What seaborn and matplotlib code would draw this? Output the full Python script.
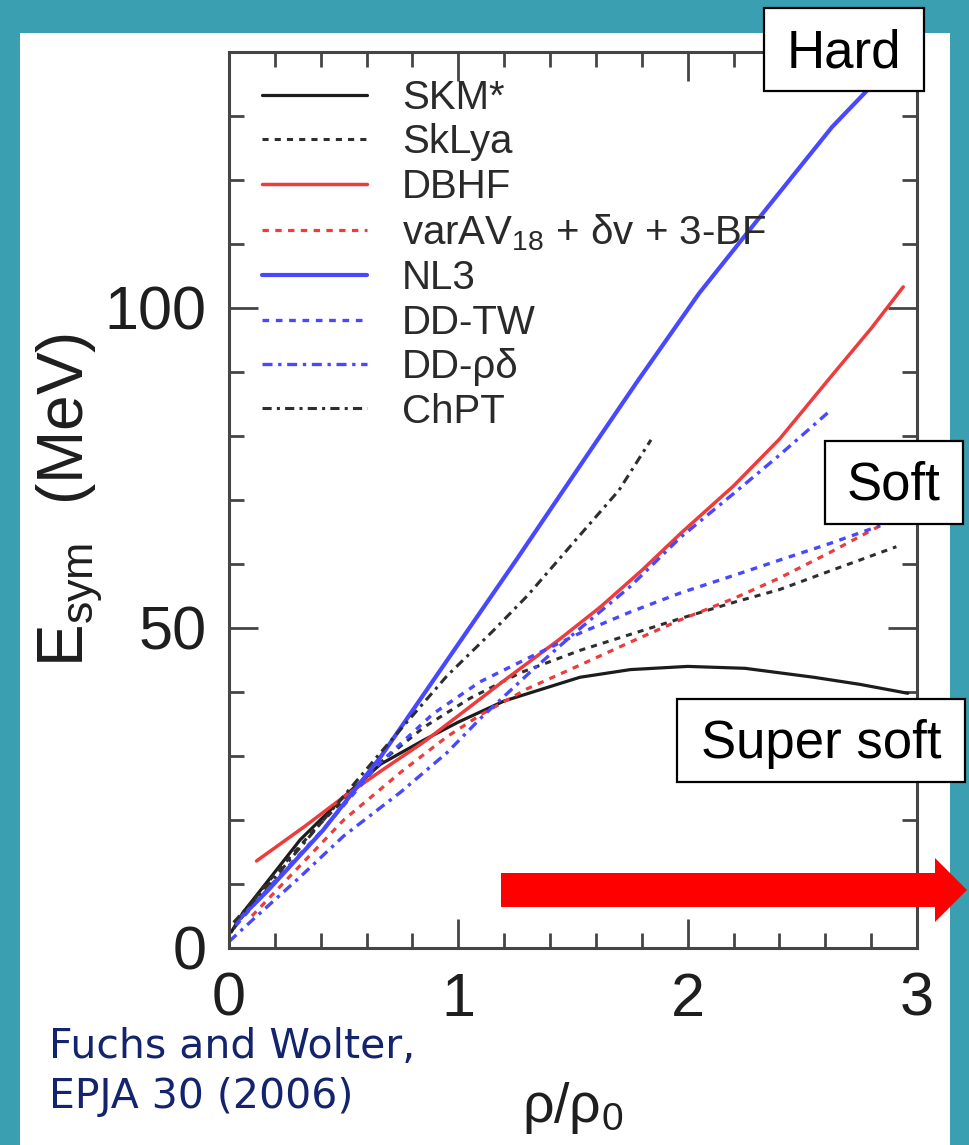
import matplotlib
matplotlib.use("Agg")
import matplotlib.pyplot as plt
from matplotlib.patches import Rectangle, Polygon
from matplotlib.ticker import MultipleLocator
import pandas as pd
import seaborn as sns

# ---- symmetry energy E_sym (MeV) versus density rho/rho0 ----
model_names = ["SKM*", "SkLya", "DBHF", "varAV$_\\mathregular{18}$ + δv + 3-BF",
               "NL3", "DD-TW", "DD-ρδ", "ChPT"]

skm_rho = [0.01, 0.06, 0.17, 0.31, 0.50, 0.66, 0.85, 1.00, 1.20, 1.53, 1.75, 2.00, 2.25, 2.55, 2.75, 2.96]
skm_esym = [2.5, 5.5, 10.5, 16.9, 23.6, 28.7, 32.5, 35.3, 38.6, 42.3, 43.5, 44.0, 43.7, 42.3, 41.2, 39.8]

sklya_rho = [0.02, 0.15, 0.37, 0.66, 0.85, 1.05, 1.27, 1.53, 1.75, 1.97, 2.20, 2.40, 2.65, 2.91]
sklya_esym = [3.0, 9.5, 18.4, 29.0, 34.5, 39.0, 43.0, 46.5, 49.0, 51.5, 54.0, 56.0, 59.3, 62.7]

dbhf_rho = [0.12, 0.33, 0.50, 0.66, 0.85, 1.00, 1.20, 1.44, 1.62, 1.80, 1.97, 2.20, 2.40, 2.63, 2.80, 2.94]
dbhf_esym = [13.6, 19.0, 23.6, 27.6, 32.2, 36.3, 41.8, 48.2, 53.3, 59.0, 64.8, 72.2, 79.5, 89.5, 96.8, 103.3]

varav_rho = [0.10, 0.30, 0.50, 0.75, 0.95, 1.10, 1.30, 1.53, 1.75, 1.97, 2.20, 2.40, 2.62, 2.84]
varav_esym = [5.0, 12.5, 20.0, 27.5, 33.0, 36.5, 40.5, 44.2, 47.8, 51.3, 54.6, 57.8, 61.8, 66.0]

nl3_rho = [0.03, 0.17, 0.41, 0.66, 1.00, 1.25, 1.59, 1.78, 2.05, 2.35, 2.63, 2.78, 2.95]
nl3_esym = [4.0, 9.0, 18.4, 29.8, 47.5, 60.5, 78.5, 88.5, 102.3, 115.8, 128.3, 133.9, 140.0]

ddtw_rho = [0.03, 0.20, 0.41, 0.66, 0.89, 1.095, 1.31, 1.53, 1.75, 1.97, 2.20, 2.40, 2.62, 2.84]
ddtw_esym = [3.5, 10.5, 18.5, 29.0, 36.6, 41.6, 45.4, 49.2, 52.5, 55.5, 58.2, 60.6, 63.2, 66.0]

ddrd_rho = [0.00, 0.10, 0.31, 0.50, 0.75, 0.95, 1.10, 1.31, 1.50, 1.75, 1.97, 2.20, 2.40, 2.61]
ddrd_esym = [1.0, 4.3, 11.1, 17.5, 24.4, 30.5, 36.0, 43.0, 49.0, 56.5, 64.2, 71.0, 77.0, 83.6]

chpt_rho = [0.02, 0.20, 0.40, 0.66, 0.95, 1.15, 1.30, 1.53, 1.70, 1.84]
chpt_esym = [4.0, 11.0, 19.5, 30.5, 42.5, 49.5, 55.0, 64.5, 71.5, 79.4]

curves_rho = [skm_rho, sklya_rho, dbhf_rho, varav_rho, nl3_rho, ddtw_rho, ddrd_rho, chpt_rho]
curves_esym = [skm_esym, sklya_esym, dbhf_esym, varav_esym, nl3_esym, ddtw_esym, ddrd_esym, chpt_esym]

x_ticks = [0, 1, 2, 3]
y_ticks = [0, 50, 100]

# ---- styling ----
TEAL = "#3a9fb1"
BLACK = "#1c1c1c"
GRAY = "#2e2e2e"
RED = "#ee3b3b"
BLUE = "#4848ff"
AXC = "#454545"
TXT = "#1e1e1e"
DOT = (0, (2.0, 2.0))
DASHDOT = (0, (3.0, 1.7, 1.0, 1.7))

styles = [
    (BLACK, 2.3, "-"),
    (GRAY, 2.2, DOT),
    (RED, 2.5, "-"),
    (RED, 2.3, DOT),
    (BLUE, 3.0, "-"),
    (BLUE, 2.4, DOT),
    (BLUE, 2.4, DASHDOT),
    (GRAY, 2.2, DASHDOT),
]

sns.set_theme(style="ticks")
plt.rcParams["font.family"] = ["Liberation Sans", "DejaVu Sans"]
plt.rcParams["mathtext.fontset"] = "custom"
plt.rcParams["mathtext.rm"] = "Liberation Sans"
plt.rcParams["mathtext.it"] = "Liberation Sans:italic"

W, H = 970, 1145
fig = plt.figure(figsize=(W / 100, H / 100), dpi=100, facecolor=TEAL)


def fx(px):
    return px / W


def fy(py):
    return 1 - py / H


# white slide panel
fig.patches.append(Rectangle((fx(20), fy(1145)), fx(950) - fx(20), fy(33) - fy(1145),
                             transform=fig.transFigure, facecolor="white",
                             edgecolor="none", zorder=-10))

ax = fig.add_axes([fx(229), fy(948), fx(917) - fx(229), fy(52) - fy(948)])
ax.set_facecolor("white")

for name, rho, esym, (col, lw, ls) in zip(model_names, curves_rho, curves_esym, styles):
    df = pd.DataFrame({"rho": rho, "esym": esym})
    sns.lineplot(data=df, x="rho", y="esym", ax=ax, color=col, linewidth=lw,
                 linestyle=ls, label=name, estimator=None, errorbar=None)

ax.set_xlim(0, 3)
ax.set_ylim(0, 140)
ax.set_xticks(x_ticks)
ax.set_yticks(y_ticks)
ax.xaxis.set_minor_locator(MultipleLocator(0.2))
ax.yaxis.set_minor_locator(MultipleLocator(10))
ax.tick_params(which="both", direction="in", top=True, right=True, color=AXC, width=2.0)
ax.tick_params(which="major", length=21)
ax.tick_params(which="minor", length=11)
ax.tick_params(axis="x", which="major", labelsize=44, pad=17, labelcolor=TXT)
ax.tick_params(axis="y", which="major", labelsize=44, pad=16, labelcolor=TXT)
for sp in ax.spines.values():
    sp.set_linewidth(2.2)
    sp.set_color(AXC)

ax.set_xlabel("ρ/ρ$_\\mathregular{0}$", fontsize=40, color=TXT)
ax.xaxis.set_label_coords(0.5, -0.147)
ax.set_ylabel("E$_\\mathregular{sym}$  (MeV)", fontsize=46, color=TXT)
ax.yaxis.set_label_coords(-0.180, 0.5)

leg = ax.legend(loc="upper left", bbox_to_anchor=(0.048, 0.970), frameon=False,
                fontsize=29, handlelength=2.6, handletextpad=0.87,
                labelspacing=0.16, borderpad=0, borderaxespad=0)
for t in leg.get_texts():
    t.set_color("#2a2a2a")

# category boxes
boxes = [
    ("Hard", 764, 8, 924, 91, 844, 67),
    ("Soft", 825, 441, 963, 524, 894, 499),
    ("Super soft", 677, 699, 965, 782, 821, 758),
]
for label, x0, y0, x1, y1, tx, ty in boxes:
    fig.patches.append(Rectangle((fx(x0), fy(y1)), fx(x1) - fx(x0), fy(y0) - fy(y1),
                                 transform=fig.transFigure, facecolor="white",
                                 edgecolor="black", linewidth=1.6, zorder=5))
    fig.text(fx(tx), fy(ty), label, fontsize=38, color="black", ha="center",
             va="baseline", family="Liberation Sans", zorder=6)

# red arrow pointing toward higher density
arrow_px = [(501, 873), (935, 873), (935, 858), (967, 890), (935, 922), (935, 907), (501, 907)]
fig.patches.append(Polygon([(fx(a), fy(b)) for a, b in arrow_px], closed=True,
                           transform=fig.transFigure, facecolor="#ff0000",
                           edgecolor="none", zorder=7))

# reference
fig.text(fx(49), fy(1058), "Fuchs and Wolter,", fontsize=29.5, color="#14236e",
         family="DejaVu Sans", ha="left", va="baseline")
fig.text(fx(49), fy(1108), "EPJA 30 (2006)", fontsize=29.5, color="#14236e",
         family="DejaVu Sans", ha="left", va="baseline")

fig.savefig("out.png", dpi=100, facecolor=TEAL)
